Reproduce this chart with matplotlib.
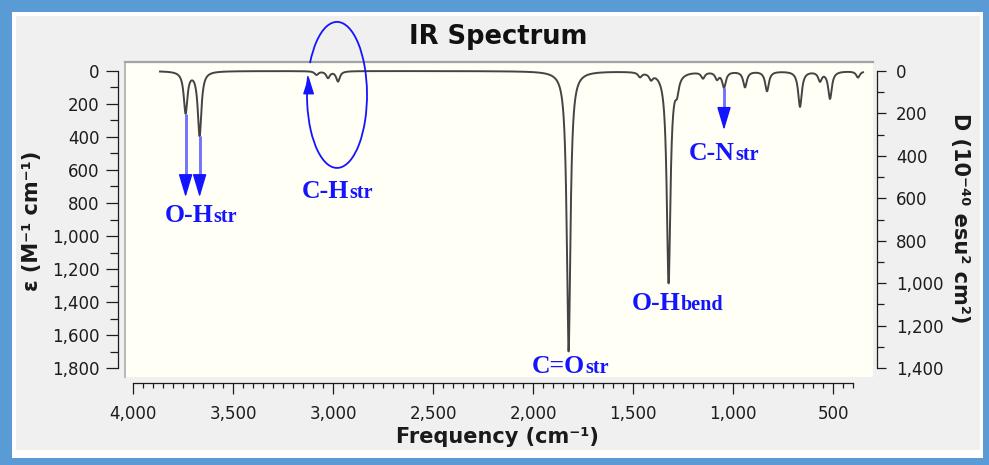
import numpy as np
import matplotlib.pyplot as plt
from matplotlib.patches import Rectangle, Arc
from matplotlib.ticker import MultipleLocator, FixedLocator, StrMethodFormatter

# vibrational bands: centre wavenumber (cm-1) and peak molar absorptivity
band_freq = [3737, 3667, 3083, 3025, 2975, 1822, 1465, 1410, 1322, 1280,
             1150, 1080, 1045, 940, 830, 665, 565, 515, 375]
band_eps = [250, 390, 22, 40, 62, 1700, 28, 36, 1280, 85,
            38, 42, 95, 95, 120, 215, 55, 165, 38]
hwhm = 11.0  # Lorentzian half width (cm-1)
freq_lo, freq_hi = 350, 3865

# assignment labels: main text, subscript, anchor (cm-1, epsilon)
assign_main = ["O-H", "C-H", "C=O", "O-H", "C-N"]
assign_sub = ["str", "str", "str", "bend", "str"]
assign_x = [3840, 3155, 2005, 1505, 1220]
assign_y = [915, 770, 1830, 1448, 539]

W, H = 989, 465
BLUE = "#1414ff"
SHAFT = "#7373ff"
TICK_C = "#1c1c1c"


def px_rect(x0, y0, x1, y1):
    return [x0 / W, 1 - y1 / H, (x1 - x0) / W, (y1 - y0) / H]


# broadened spectrum
freq = np.linspace(freq_hi, freq_lo, 5000)
eps = np.zeros_like(freq)
for f0, e0 in zip(band_freq, band_eps):
    eps += e0 / (1 + ((freq - f0) / hwhm) ** 2)

fig = plt.figure(figsize=(W / 100, H / 100), dpi=100, facecolor="#5b9bd5")
r = px_rect(12, 12, 983, 458)
fig.add_artist(Rectangle(r[:2], r[2], r[3], transform=fig.transFigure,
                         facecolor="white", edgecolor="none", zorder=-10))
r = px_rect(16, 16, 980, 450)
fig.add_artist(Rectangle(r[:2], r[2], r[3], transform=fig.transFigure,
                         facecolor="#f0f0f0", edgecolor="none", zorder=-9))

ax = fig.add_axes(px_rect(125, 62, 873, 377))
ax.set_facecolor("#fffff6")
ax.set_xlim(4040, 300)
ax.set_ylim(1854.5, -54.5)

ax.plot(freq, eps, color="#444444", lw=1.4, zorder=3)

# inset border of the plotting area
ax.spines["right"].set_visible(False)
ax.spines["top"].set_color("#a3a3a3")
ax.spines["top"].set_linewidth(1.6)
ax.plot([0, 0], [0, 1], transform=ax.transAxes, color="#b8b8b8", lw=1.4, clip_on=False)

# detached axis lines
ax.spines["left"].set_position(("outward", 5.0))
ax.spines["left"].set_bounds(0, 1800)
ax.spines["bottom"].set_position(("outward", 4.3))
ax.spines["bottom"].set_bounds(400, 4000)
for s in ["left", "bottom"]:
    ax.spines[s].set_color(TICK_C)
    ax.spines[s].set_linewidth(0.9)

ax.xaxis.set_major_locator(MultipleLocator(500))
ax.xaxis.set_minor_locator(FixedLocator(np.arange(400, 4001, 50)))
ax.yaxis.set_major_locator(MultipleLocator(200))
ax.yaxis.set_minor_locator(MultipleLocator(100))
ax.xaxis.set_major_formatter(StrMethodFormatter("{x:,.0f}"))
ax.yaxis.set_major_formatter(StrMethodFormatter("{x:,.0f}"))
ax.tick_params(axis="x", which="major", length=7.9, width=0.9, pad=8.0,
               color=TICK_C, labelcolor=TICK_C, labelsize=12)
ax.tick_params(axis="x", which="minor", length=3.4, width=0.9, color=TICK_C)
ax.tick_params(axis="y", which="major", length=8.6, width=0.9, pad=4.6,
               color=TICK_C, labelcolor=TICK_C, labelsize=12)
ax.tick_params(axis="y", which="minor", length=5.8, width=0.9, color=TICK_C)

# dipole strength scale on the right
ax2 = ax.twinx()
ratio = 1400 / 1800
ax2.set_ylim(1854.5 * ratio, -54.5 * ratio)
for s in ["top", "left", "bottom"]:
    ax2.spines[s].set_visible(False)
ax2.spines["right"].set_position(("outward", 2.9))
ax2.spines["right"].set_bounds(0, 1400)
ax2.spines["right"].set_color(TICK_C)
ax2.spines["right"].set_linewidth(0.9)
ax2.yaxis.set_major_locator(MultipleLocator(200))
ax2.yaxis.set_minor_locator(MultipleLocator(100))
ax2.yaxis.set_major_formatter(StrMethodFormatter("{x:,.0f}"))
ax2.tick_params(axis="y", which="major", length=6.5, width=0.9, pad=7,
                color=TICK_C, labelcolor=TICK_C, labelsize=12)
ax2.tick_params(axis="y", which="minor", length=5.0, width=0.9, color=TICK_C)

# titles
fig.text(498 / W, 1 - 37 / H, "IR Spectrum", ha="center", va="center",
         fontsize=18.5, fontweight="bold", color="#111111")
fig.text(497 / W, 1 - 437 / H, "Frequency (cm⁻¹)", ha="center", va="center",
         fontsize=15, fontweight="bold", color="#1a1a1a")
fig.text(32 / W, 1 - 221 / H, "ε (M⁻¹ cm⁻¹)", ha="center", va="center",
         rotation=90, fontsize=15, fontweight="bold", color="#1a1a1a")
fig.text(960 / W, 1 - 218 / H, "D (10⁻⁴⁰ esu² cm²)", ha="center", va="center",
         rotation=270, fontsize=15, fontweight="bold", color="#1a1a1a")

# band assignments
for main, sub, x, y in zip(assign_main, assign_sub, assign_x, assign_y):
    t = ax.text(x, y, main, ha="left", va="baseline", color=BLUE,
                fontfamily="Liberation Serif", fontweight="bold", fontsize=18.5, zorder=5)
    ax.annotate(sub, xy=(1, 0), xycoords=t, ha="left", va="bottom", color=BLUE,
                fontfamily="Liberation Serif", fontweight="bold", fontsize=14.5, zorder=5)


def down_arrow(x, y_tip):
    y0 = np.interp(x, freq[::-1], eps[::-1])
    ax.plot([x, x], [y0, y_tip - 60], color=SHAFT, lw=2.1, zorder=4, solid_capstyle="butt")
    ax.annotate("", xy=(x, y_tip), xytext=(x, y_tip - 70),
                arrowprops=dict(arrowstyle="-|>,head_length=14.4,head_width=4.3",
                                mutation_scale=1, color=BLUE, lw=1, shrinkA=0, shrinkB=0),
                zorder=5)


down_arrow(band_freq[0], 765)
down_arrow(band_freq[1], 765)
down_arrow(band_freq[12], 358)

# C-H stretch region ringed, with an arrow running up its left side
ax.add_patch(Arc((2980, 145), width=300, height=885, theta1=322, theta2=305,
                 color=BLUE, lw=1.3, zorder=5, clip_on=False))
ax.annotate("", xy=(3122, 33), xytext=(3122, 121),
            arrowprops=dict(arrowstyle="-|>,head_length=10.8,head_width=3.4",
                            mutation_scale=1, color=BLUE, lw=1, shrinkA=0, shrinkB=0),
            zorder=5, annotation_clip=False)

fig.savefig("out.png", dpi=100, facecolor=fig.get_facecolor())
